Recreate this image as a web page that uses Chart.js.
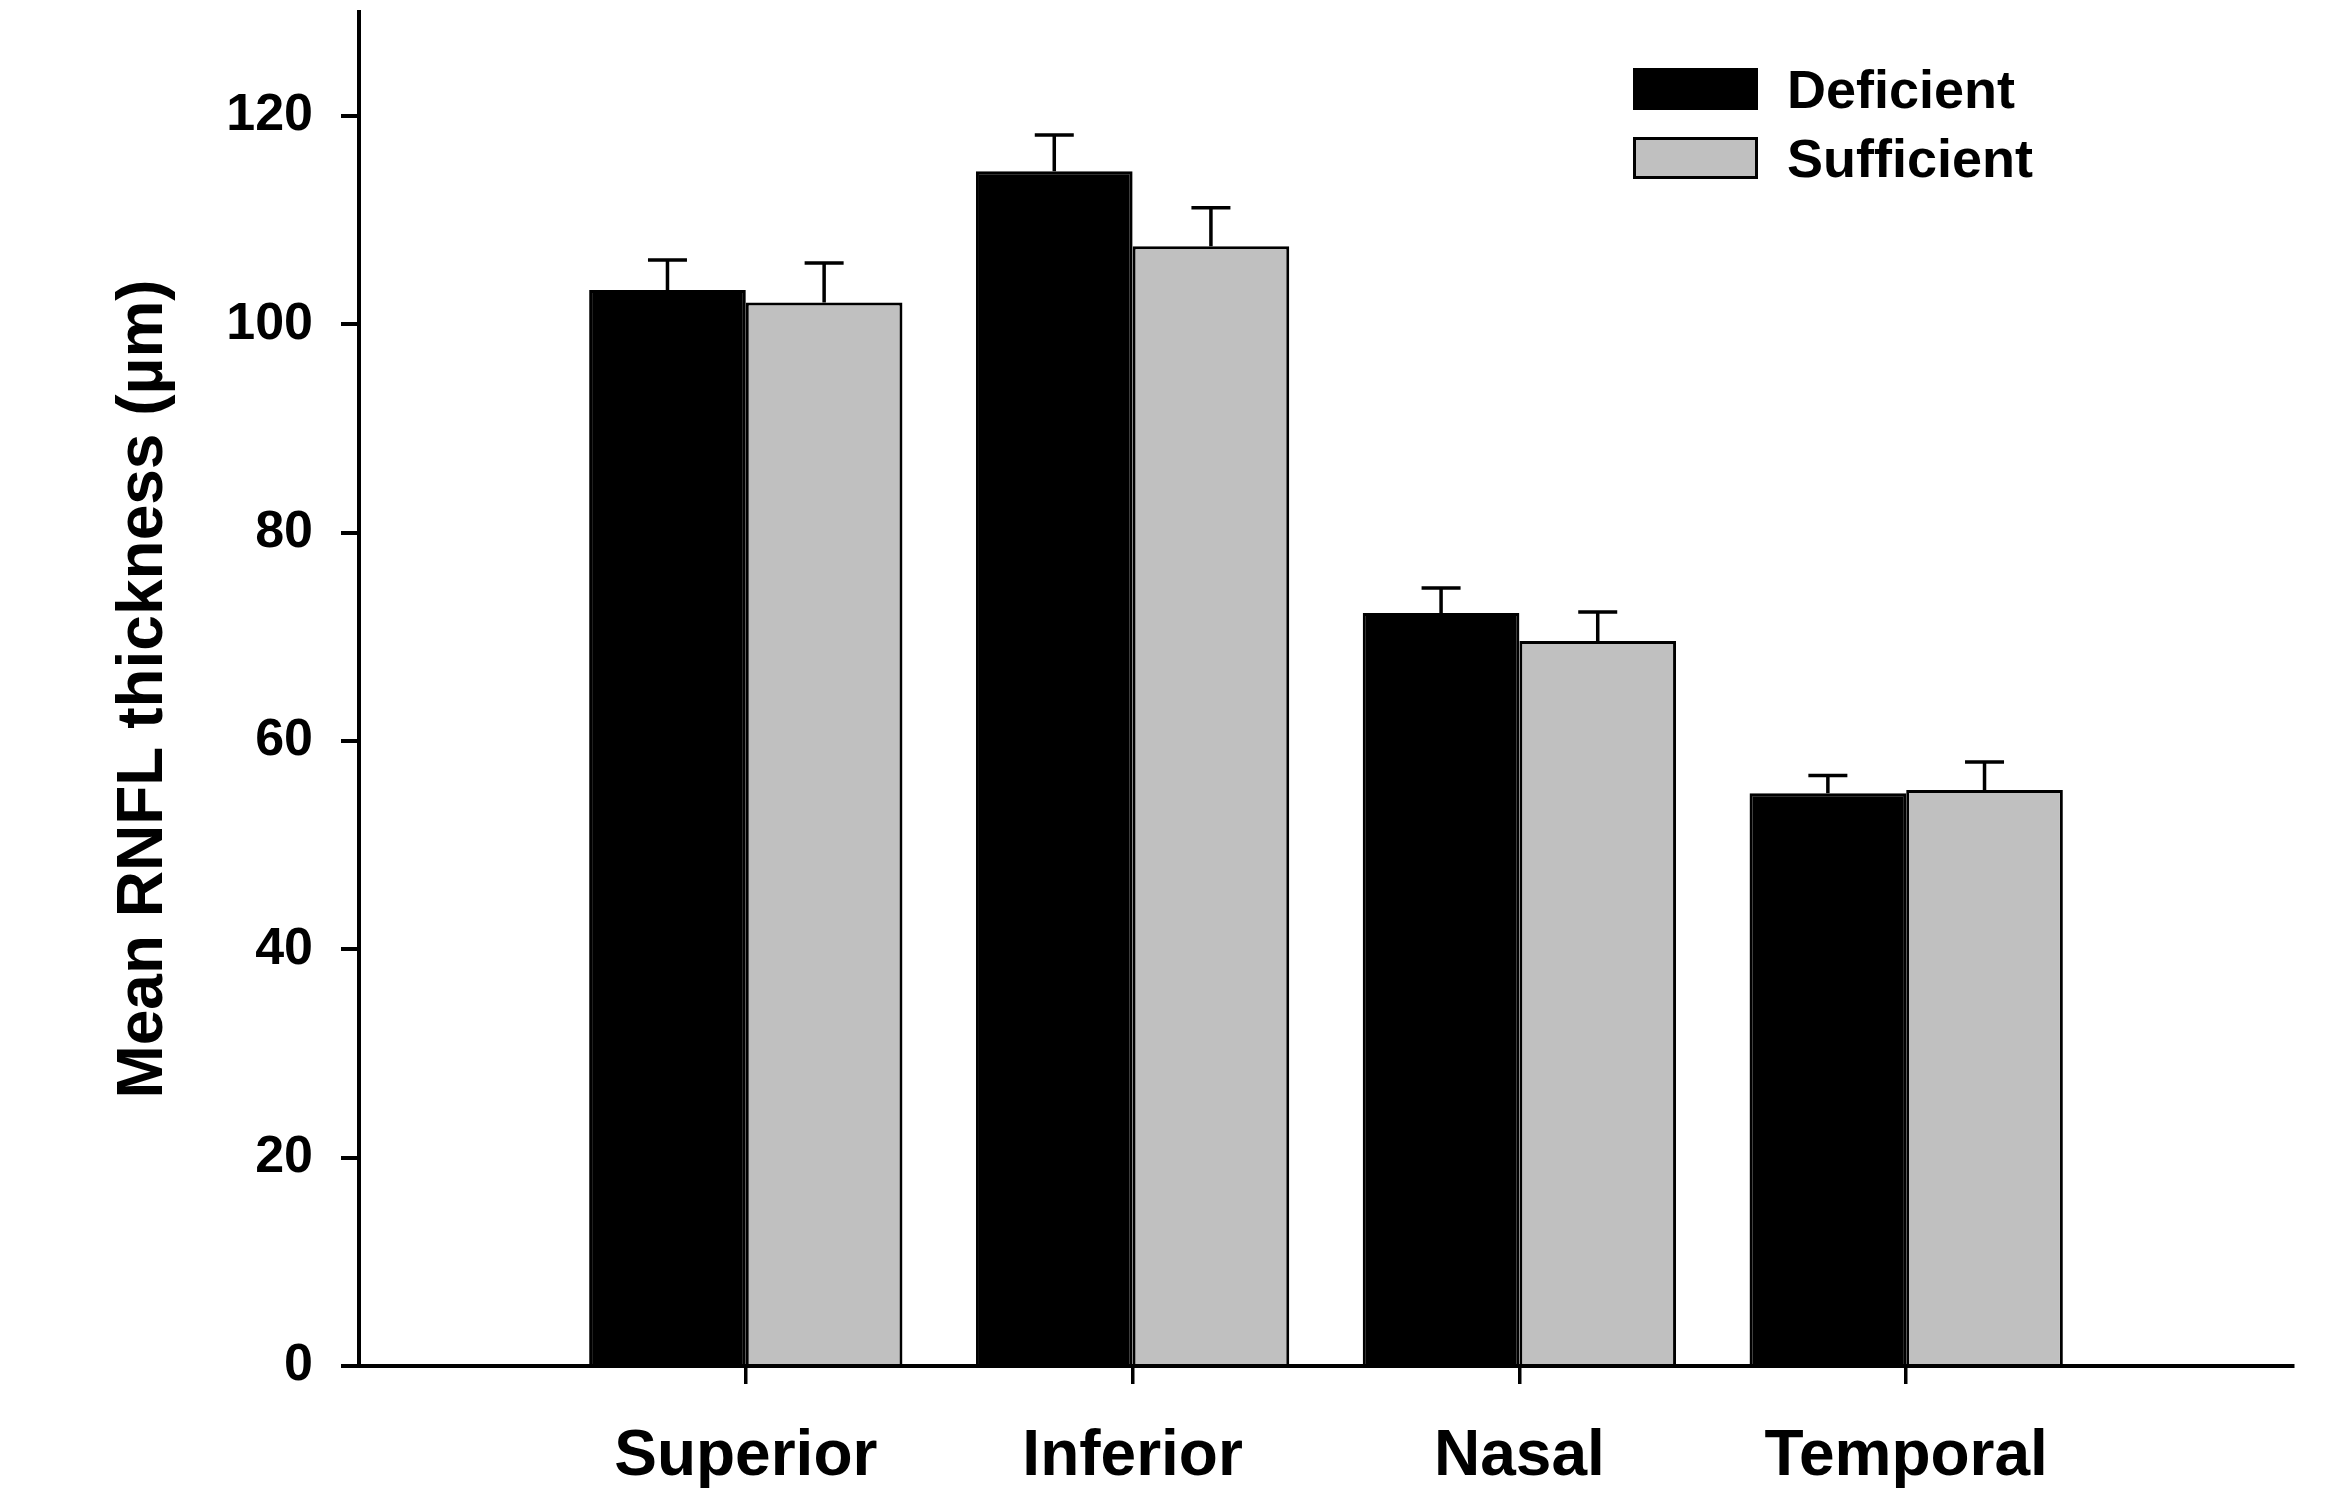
<!DOCTYPE html>
<html>
<head>
<meta charset="utf-8">
<title>Mean RNFL thickness</title>
<script src="https://cdn.jsdelivr.net/npm/chart.js@4/dist/chart.umd.min.js"></script>
<style>
  html, body { margin: 0; padding: 0; background: #ffffff; }
  #wrap { width: 2343px; height: 1492px; position: relative; }
</style>
</head>
<body>
<div id="wrap"><canvas id="chart"></canvas></div>
<script>
// Retinal nerve fibre layer thickness by quadrant
const categories = ['Superior', 'Inferior', 'Nasal', 'Temporal'];
const deficient = [103.3, 114.7, 72.3, 55.0];
const sufficient = [102.1, 107.5, 69.6, 55.3];
const deficientErr = [2.9, 3.5, 2.4, 1.7];
const sufficientErr = [3.8, 3.7, 2.8, 2.7];
const yTicks = [0, 20, 40, 60, 80, 100, 120];

const FONT = "'Liberation Sans', Arial, Helvetica, sans-serif";

// one empty slot on each side of the four quadrants
const padded = arr => [null, ...arr, null];
const labels = ['', ...categories, ''];

// upward error bars with caps
const errorBars = {
  id: 'errorBars',
  afterDatasetsDraw(chart) {
    const ctx = chart.ctx;
    const y = chart.scales.y;
    ctx.save();
    ctx.strokeStyle = '#000000';
    ctx.lineWidth = 3.5;
    ctx.lineCap = 'butt';
    chart.data.datasets.forEach((ds, di) => {
      const meta = chart.getDatasetMeta(di);
      meta.data.forEach((bar, i) => {
        const v = ds.data[i];
        const e = ds.errors[i];
        if (v == null || e == null) return;
        const top = y.getPixelForValue(v + e);
        const base = y.getPixelForValue(v);
        ctx.beginPath();
        ctx.moveTo(bar.x, base);
        ctx.lineTo(bar.x, top);
        ctx.moveTo(bar.x - 19.5, top);
        ctx.lineTo(bar.x + 19.5, top);
        ctx.stroke();
      });
    });
    ctx.restore();
  }
};

// legend box in the upper right of the plot area
const boxLegend = {
  id: 'boxLegend',
  afterDraw(chart) {
    const ctx = chart.ctx;
    const area = chart.chartArea;
    const x0 = area.right - 660;
    const y0 = area.top + 56;
    const rowGap = 69;
    ctx.save();
    ctx.font = 'bold 54px ' + FONT;
    ctx.textBaseline = 'middle';
    ctx.textAlign = 'left';
    chart.data.datasets.forEach((ds, i) => {
      const by = y0 + i * rowGap;
      ctx.fillStyle = ds.backgroundColor;
      ctx.fillRect(x0, by, 125, 42);
      ctx.strokeStyle = '#000000';
      ctx.lineWidth = 3;
      ctx.strokeRect(x0 + 1.5, by + 1.5, 122, 39);
      ctx.fillStyle = '#000000';
      ctx.fillText(ds.label, x0 + 154, by + 25);
    });
    ctx.restore();
  }
};

new Chart(document.getElementById('chart'), {
  type: 'bar',
  data: {
    labels: labels,
    datasets: [
      {
        label: 'Deficient',
        data: padded(deficient),
        errors: padded(deficientErr),
        backgroundColor: '#000000',
        borderColor: '#000000',
        borderWidth: 3,
        borderSkipped: 'start'
      },
      {
        label: 'Sufficient',
        data: padded(sufficient),
        errors: padded(sufficientErr),
        backgroundColor: '#c0c0c0',
        borderColor: '#000000',
        borderWidth: 3,
        borderSkipped: 'start'
      }
    ]
  },
  options: {
    responsive: true,
    maintainAspectRatio: false,
    animation: false,
    devicePixelRatio: 1,
    layout: { padding: { left: 0, right: 50, top: 12, bottom: 0 } },
    datasets: { bar: { categoryPercentage: 0.81, barPercentage: 1.0 } },
    plugins: {
      legend: { display: false },
      tooltip: { enabled: false },
      title: { display: false }
    },
    scales: {
      x: {
        type: 'category',
        offset: false,
        grid: {
          offset: false,
          drawOnChartArea: false,
          drawTicks: true,
          tickLength: 18,
          lineWidth: 3.5,
          color: ctx => (ctx.tick && ctx.tick.label ? '#000000' : 'rgba(0,0,0,0)')
        },
        border: { display: true, color: '#000000', width: 4 },
        ticks: {
          color: '#000000',
          padding: 35,
          autoSkip: false,
          maxRotation: 0,
          font: { family: FONT, size: 64, weight: 'bold' }
        },
        afterFit: s => { s.height = 126; s.paddingLeft = 0; s.paddingRight = 0; }
      },
      y: {
        type: 'linear',
        min: 0,
        max: 130,
        grid: {
          drawOnChartArea: false,
          drawTicks: true,
          tickLength: 18,
          lineWidth: 4,
          color: '#000000'
        },
        border: { display: true, color: '#000000', width: 4 },
        ticks: {
          color: '#000000',
          padding: 28,
          stepSize: 20,
          includeBounds: false,
          font: { family: FONT, size: 52, weight: 'bold' }
        },
        afterBuildTicks: s => { s.ticks = yTicks.map(v => ({ value: v })); },
        title: {
          display: true,
          text: 'Mean RNFL thickness (µm)',
          color: '#000000',
          padding: { top: 106, bottom: 0 },
          font: { family: FONT, size: 64, weight: 'bold' }
        },
        afterFit: s => { s.width = 359; s.paddingTop = 0; s.paddingBottom = 0; }
      }
    }
  },
  plugins: [errorBars, boxLegend]
});
</script>
</body>
</html>
